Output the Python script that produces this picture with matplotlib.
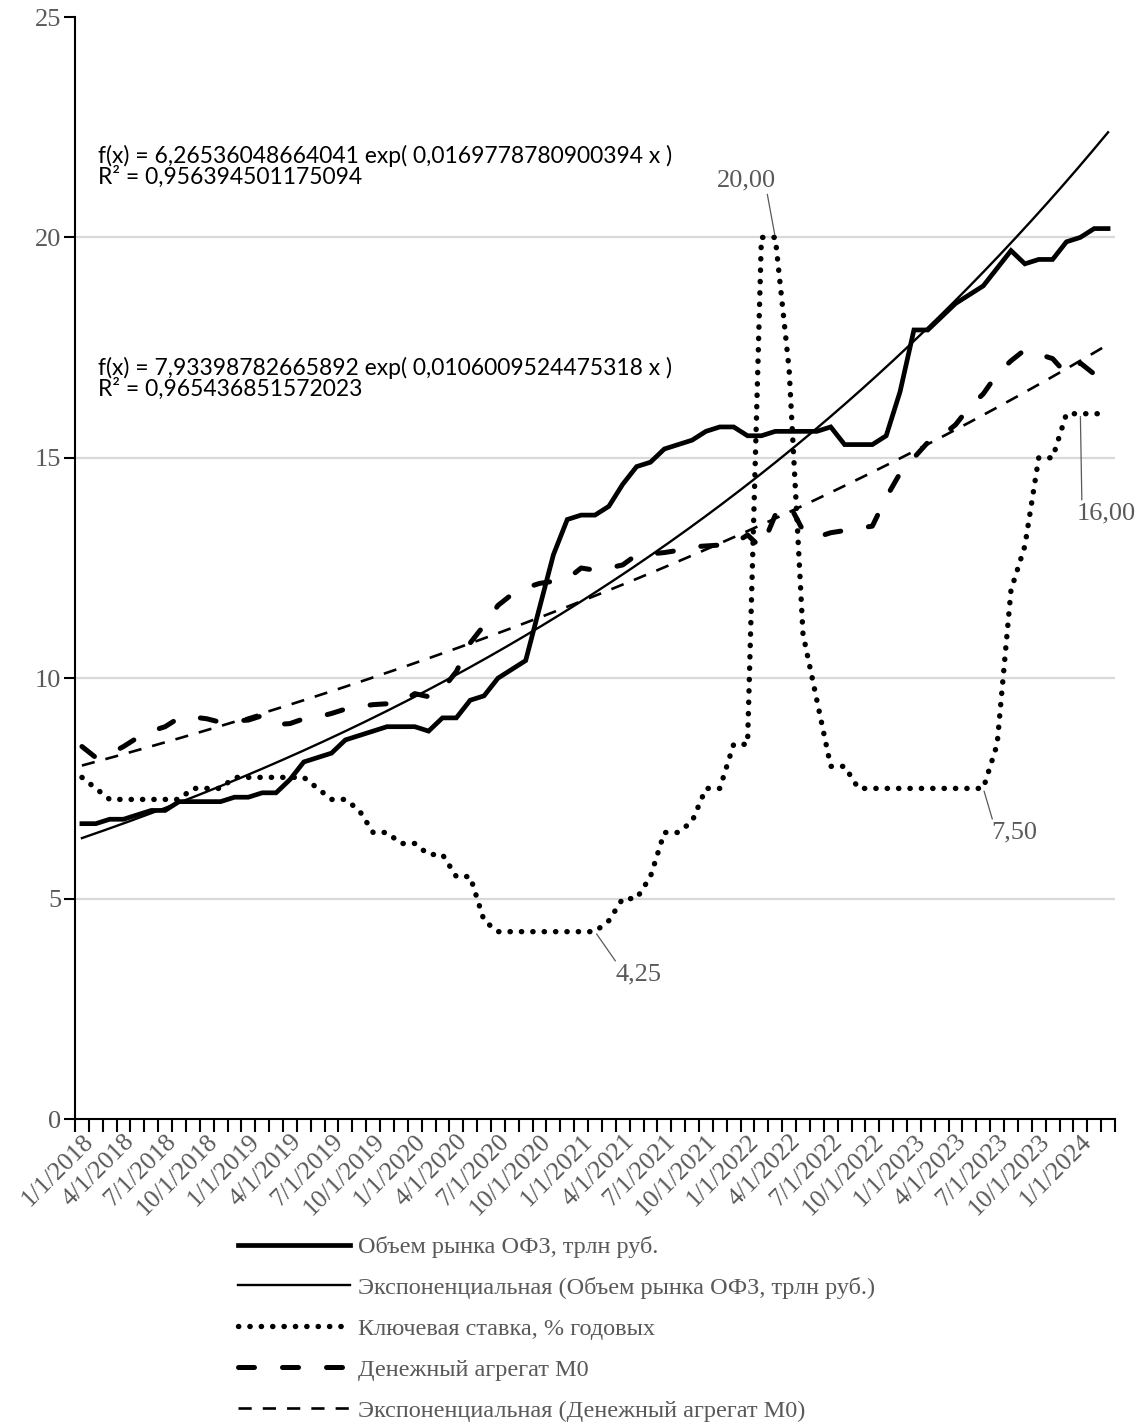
import numpy as np
import matplotlib.pyplot as plt

# Monthly series, Jan 2018 .. Mar 2024
ofz_volume = [6.7, 6.7, 6.8, 6.8, 6.9, 7.0, 7.0, 7.2, 7.2, 7.2, 7.2, 7.3, 7.3, 7.4, 7.4,
              7.7, 8.1, 8.2, 8.3, 8.6, 8.7, 8.8, 8.9, 8.9, 8.9, 8.8, 9.1, 9.1, 9.5, 9.6,
              10.0, 10.2, 10.4, 11.6, 12.8, 13.6, 13.7, 13.7, 13.9, 14.4, 14.8, 14.9, 15.2, 15.3, 15.4,
              15.6, 15.7, 15.7, 15.5, 15.5, 15.6, 15.6, 15.6, 15.6, 15.7, 15.3, 15.3, 15.3, 15.5, 16.5,
              17.9, 17.9, 18.2, 18.5, 18.7, 18.9, 19.3, 19.7, 19.4, 19.5, 19.5, 19.9, 20.0, 20.2, 20.2]

key_rate = [7.75, 7.5, 7.25, 7.25, 7.25, 7.25, 7.25, 7.25, 7.5, 7.5, 7.5, 7.75, 7.75, 7.75, 7.75,
            7.75, 7.75, 7.5, 7.25, 7.25, 7.0, 6.5, 6.5, 6.25, 6.25, 6.0, 6.0, 5.5, 5.5, 4.5,
            4.25, 4.25, 4.25, 4.25, 4.25, 4.25, 4.25, 4.25, 4.5, 5.0, 5.0, 5.5, 6.5, 6.5, 6.75,
            7.5, 7.5, 8.5, 8.5, 20.0, 20.0, 17.0, 11.0, 9.5, 8.0, 8.0, 7.5, 7.5, 7.5, 7.5,
            7.5, 7.5, 7.5, 7.5, 7.5, 7.5, 8.5, 12.0, 13.0, 15.0, 15.0, 16.0, 16.0, 16.0, 16.0]

m0 = [8.45, 8.2, 8.28, 8.45, 8.65, 8.8, 8.9, 9.1, 9.12, 9.08, 9.0, 9.03, 9.05, 9.15, 8.95,
      8.97, 9.08, 9.12, 9.2, 9.3, 9.36, 9.4, 9.42, 9.45, 9.65, 9.58, 9.75, 10.15, 10.8, 11.2,
      11.65, 11.9, 12.05, 12.15, 12.2, 12.25, 12.5, 12.45, 12.5, 12.57, 12.8, 12.82, 12.85, 12.9, 12.98,
      13.0, 13.02, 13.05, 13.25, 12.95, 13.7, 13.95, 13.35, 13.2, 13.3, 13.35, 13.4, 13.45, 14.1, 14.65,
      15.0, 15.35, 15.5, 15.75, 16.15, 16.45, 16.9, 17.2, 17.45, 17.35, 17.25, 16.9, 17.15, 16.9, 16.75]

tick_labels = ["1/1/2018", "4/1/2018", "7/1/2018", "10/1/2018",
               "1/1/2019", "4/1/2019", "7/1/2019", "10/1/2019",
               "1/1/2020", "4/1/2020", "7/1/2020", "10/1/2020",
               "1/1/2021", "4/1/2021", "7/1/2021", "10/1/2021",
               "1/1/2022", "4/1/2022", "7/1/2022", "10/1/2022",
               "1/1/2023", "4/1/2023", "7/1/2023", "10/1/2023",
               "1/1/2024"]

# exponential trend coefficients f(x) = a * exp(b x), x = 1..n
ofz_a, ofz_b, ofz_r2 = 6.26536048664041, 0.0169778780900394, 0.956394501175094
m0_a, m0_b, m0_r2 = 7.93398782665892, 0.0106009524475318, 0.965436851572023

labels = ["Объем рынка ОФЗ, трлн руб.",
          "Экспоненциальная (Объем рынка ОФЗ, трлн руб.)",
          "Ключевая ставка, % годовых",
          "Денежный агрегат М0",
          "Экспоненциальная (Денежный агрегат М0)"]

GRAY = "#595959"
SERIF = ["Liberation Serif", "DejaVu Serif"]

n = len(ofz_volume)
x = np.arange(n)
xs = np.linspace(0, n - 1, 400)

fig = plt.figure(figsize=(11.41, 14.27), dpi=100)
ax = fig.add_axes([75 / 1141, 1 - 1119 / 1427, 1040 / 1141, 1102 / 1427])

for g in [5, 10, 15, 20]:
    ax.axhline(g, color="#d9d9d9", lw=1.6, zorder=0)

l_ofz, = ax.plot(x, ofz_volume, color="black", lw=3.4, solid_joinstyle="miter")
l_ofz_tr, = ax.plot(xs, ofz_a * np.exp(ofz_b * (xs + 1)), color="black", lw=1.7)
l_rate, = ax.plot(x, key_rate, color="black", lw=3.9, linestyle=(0, (0.05, 2.05)),
                  dash_capstyle="round")
l_m0, = ax.plot(x, m0, color="black", lw=3.6, linestyle=(0, (3.2, 5.6)),
                dash_capstyle="round")
l_m0_tr, = ax.plot(xs, m0_a * np.exp(m0_b * (xs + 1)), color="black", lw=1.9,
                   linestyle=(0, (5.0, 4.2)))

ax.set_xlim(-0.5, n - 0.5)
ax.set_ylim(0, 25)
for s in ["top", "right"]:
    ax.spines[s].set_visible(False)
for s in ["left", "bottom"]:
    ax.spines[s].set_linewidth(1.5)

ax.set_yticks(range(0, 26, 5))
ax.tick_params(axis="y", direction="out", length=8, width=1.5, labelsize=19,
               labelcolor=GRAY, pad=2)
for t in ax.get_yticklabels():
    t.set_family(SERIF)

ax.set_xticks(np.arange(-0.5, n, 1.0))
ax.set_xticklabels([])
ax.tick_params(axis="x", which="major", direction="out", length=9, width=1.5)
ax.set_xticks(np.arange(0, n, 3), minor=True)
ax.set_xticklabels(tick_labels, minor=True, rotation=45, ha="right", va="top",
                   rotation_mode="anchor", fontsize=18.5, color=GRAY, family=SERIF)
ax.tick_params(axis="x", which="minor", length=0, pad=8)

eq_font = dict(family=["Lato", "DejaVu Sans"], fontsize=16.5, color="black", va="top",
               linespacing=0.95)
ax.text(1.15, 22.1,
        f"f(x) = {str(ofz_a).replace('.', ',')} exp( {str(ofz_b).replace('.', ',')} x )\n"
        f"R² = {str(ofz_r2).replace('.', ',')}", **eq_font)
ax.text(1.15, 17.3,
        f"f(x) = {str(m0_a).replace('.', ',')} exp( {str(m0_b).replace('.', ',')} x )\n"
        f"R² = {str(m0_r2).replace('.', ',')}", **eq_font)


def label_point(i, dx, dy, rel):
    ax.annotate(f"{key_rate[i]:.2f}".replace(".", ","), xy=(i, key_rate[i]),
                xytext=(dx, dy), textcoords="offset points", ha="center", va="center",
                fontsize=19, color=GRAY, family=SERIF,
                arrowprops=dict(arrowstyle="-", color=GRAY, lw=0.9, shrinkA=0, shrinkB=2,
                                relpos=rel))


label_point(50, -21, 41, (0.85, 0))
label_point(37, 31, -31, (0.05, 1))
label_point(65, 22, -32, (0.05, 1))
label_point(72, 19, -72, (0.08, 1))

fig.legend([l_ofz, l_ofz_tr, l_rate, l_m0, l_m0_tr], labels,
           loc="upper left", bbox_to_anchor=(238 / 1141, 1 - 1236 / 1427),
           frameon=False, handlelength=4.6, handletextpad=0.35, labelspacing=0.78,
           borderpad=0, borderaxespad=0,
           prop=dict(family=SERIF, size=17.5), labelcolor=GRAY)

fig.savefig("out.png", dpi=100)
